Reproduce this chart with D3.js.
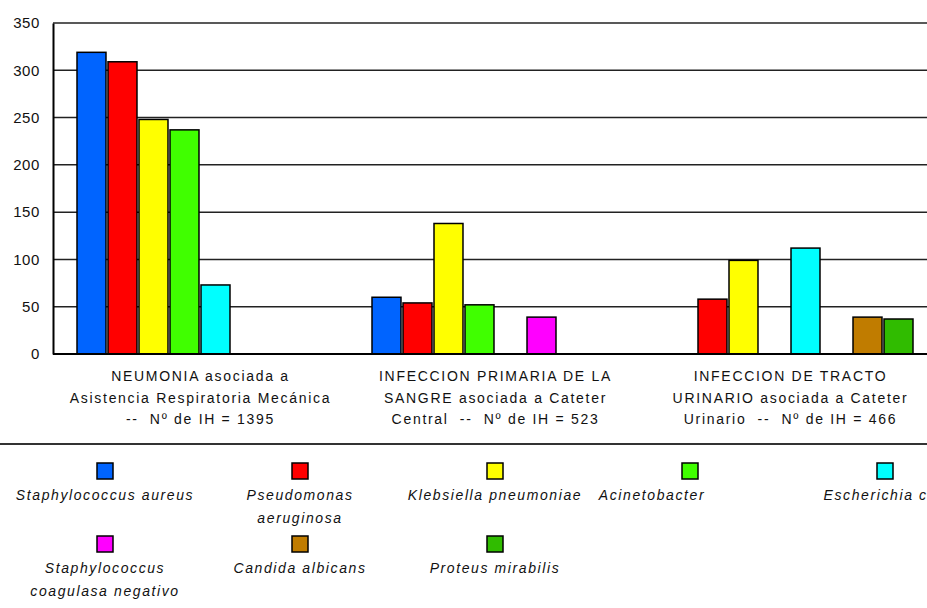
<!DOCTYPE html>
<html>
<head>
<meta charset="utf-8">
<script src="https://cdn.jsdelivr.net/npm/d3@7"></script>
<style>
  body { margin: 0; background: #fff; }
  svg text { font-family: "Liberation Sans", Arial, sans-serif; fill: #111; white-space: pre; }
</style>
</head>
<body>
<div class="chart"></div>
<script>
// categories (each label split over three lines)
var categories = ["NAV", "BAC", "ITU"];
var categoryLines = [
  ["NEUMONIA asociada a", "Asistencia Respiratoria Mecánica", "--  Nº de IH = 1395"],
  ["INFECCION PRIMARIA DE LA", "SANGRE asociada a Cateter", "Central  --  Nº de IH = 523"],
  ["INFECCION DE TRACTO", "URINARIO asociada a Cateter", "Urinario  --  Nº de IH = 466"]
];

// series names and colours
var seriesNames = [
  "Staphylococcus aureus",
  "Pseudomonas aeruginosa",
  "Klebsiella pneumoniae",
  "Acinetobacter",
  "Escherichia coli",
  "Staphylococcus coagulasa negativo",
  "Candida albicans",
  "Proteus mirabilis"
];
var seriesColors = ["#0064ff", "#ff0000", "#ffff00", "#40ff00", "#00ffff", "#ff00ff", "#c07c00", "#30bc00"];

// legend label lines
var legendLines = [
  ["Staphylococcus aureus"],
  ["Pseudomonas", "aeruginosa"],
  ["Klebsiella pneumoniae"],
  ["Acinetobacter"],
  ["Escherichia coli"],
  ["Staphylococcus", "coagulasa negativo"],
  ["Candida albicans"],
  ["Proteus mirabilis"]
];

// values per series, one per category (null = no bar)
var staphAureus   = [319, 60, null];
var pseudomonas   = [309, 54, 58];
var klebsiella    = [248, 138, 99];
var acinetobacter = [237, 52, null];
var ecoli         = [73, null, 112];
var staphCoag     = [null, 39, null];
var candida       = [null, null, 39];
var proteus       = [null, null, 37];
var seriesValues = [staphAureus, pseudomonas, klebsiella, acinetobacter, ecoli, staphCoag, candida, proteus];

var yTicks = [0, 50, 100, 150, 200, 250, 300, 350];

var svgWidth = 927, svgHeight = 608;
var plot = { left: 53, right: 938, top: 23, bottom: 354 };

var svg = d3.select(".chart").append("svg")
  .attr("width", svgWidth)
  .attr("height", svgHeight);

var x0 = d3.scaleBand().domain(categories).range([plot.left, plot.right]);
var x1 = d3.scaleBand().domain(seriesNames).range([24, 270]).paddingInner(0.065);
var y = d3.scaleLinear().domain([0, 350]).range([plot.bottom, plot.top]);

// gridlines
svg.append("g").selectAll("line")
  .data(yTicks.filter(function(d) { return d > 0; }))
  .enter().append("line")
  .attr("x1", plot.left).attr("x2", svgWidth)
  .attr("y1", function(d) { return y(d); })
  .attr("y2", function(d) { return y(d); })
  .attr("stroke", "#222")
  .attr("stroke-width", 1.5);

// y axis using d3 axis, then restyled
var leftAxis = d3.axisLeft(y).tickValues(yTicks).tickSize(0).tickPadding(13);
var yAxis = svg.append("g")
  .attr("transform", "translate(" + plot.left + ",0)")
  .call(leftAxis);
yAxis.select(".domain").attr("stroke", "#000").attr("stroke-width", 2);
yAxis.selectAll("text")
  .style("font-size", "15px")
  .style("letter-spacing", "0.6px")
  .attr("fill", "#111");

// bars
var flat = [];
seriesValues.forEach(function(vals, s) {
  vals.forEach(function(v, c) {
    if (v !== null) flat.push({ cat: categories[c], name: seriesNames[s], color: seriesColors[s], value: v });
  });
});

svg.append("g").selectAll("rect")
  .data(flat)
  .enter().append("rect")
  .attr("x", function(d) { return x0(d.cat) + x1(d.name); })
  .attr("y", function(d) { return y(d.value); })
  .attr("width", x1.bandwidth())
  .attr("height", function(d) { return y(0) - y(d.value); })
  .attr("fill", function(d) { return d.color; })
  .attr("stroke", "#000")
  .attr("stroke-width", 1.5);

// x axis baseline
svg.append("line")
  .attr("x1", plot.left).attr("x2", svgWidth)
  .attr("y1", y(0)).attr("y2", y(0))
  .attr("stroke", "#000").attr("stroke-width", 2);

// category labels
categories.forEach(function(c, i) {
  var t = svg.append("text")
    .attr("x", x0(c) + x0.bandwidth() / 2)
    .attr("y", 380)
    .attr("text-anchor", "middle")
    .style("font-size", "14px")
    .style("letter-spacing", "1.7px");
  categoryLines[i].forEach(function(line, k) {
    t.append("tspan")
      .attr("x", x0(c) + x0.bandwidth() / 2)
      .attr("y", 381 + k * 21.7)
      .text(line);
  });
});

// separator above legend
svg.append("line")
  .attr("x1", 0).attr("x2", svgWidth)
  .attr("y1", 444).attr("y2", 444)
  .attr("stroke", "#333").attr("stroke-width", 2.2);

// legend
var colX = d3.scalePoint().domain(d3.range(5)).range([105, 885]);
var legendShift = [0, 0, 0, -38, 0, 0, 0, 0];
var legend = svg.append("g").selectAll("g")
  .data(seriesNames)
  .enter().append("g")
  .attr("transform", function(d, i) {
    return "translate(" + colX(i % 5) + "," + (i < 5 ? 463 : 536) + ")";
  });

legend.append("rect")
  .attr("x", -8).attr("y", 0)
  .attr("width", 16).attr("height", 16)
  .attr("fill", function(d, i) { return seriesColors[i]; })
  .attr("stroke", "#000")
  .attr("stroke-width", 1.5);

legend.append("text")
  .attr("text-anchor", "middle")
  .style("font-size", "14px")
  .style("font-style", "italic")
  .style("letter-spacing", "1.6px")
  .each(function(d, i) {
    var t = d3.select(this);
    legendLines[i].forEach(function(line, k) {
      t.append("tspan")
        .attr("x", legendShift[i])
        .attr("y", 37 + k * 23)
        .text(line);
    });
  });
</script>
</body>
</html>
